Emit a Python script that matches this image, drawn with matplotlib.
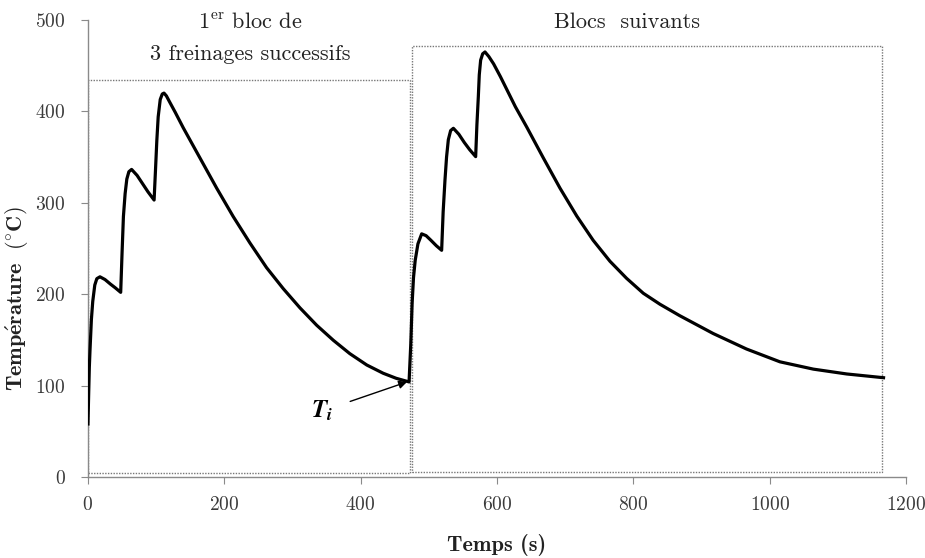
import matplotlib
matplotlib.use('Agg')
import matplotlib.pyplot as plt
from matplotlib.patches import Rectangle

# temperature history (s, degC)
temps_s = [0, 1, 2, 3, 5, 7, 10, 13, 17.6, 25, 33, 40, 48,
           50, 52, 54.5, 57, 60, 64, 72, 80, 88, 97,
           99, 101, 103, 106, 109, 111.5, 115, 120, 128, 139.8,
           164.3, 188.8, 213, 237.6, 262, 286.5, 311, 335.5, 360,
           384, 409, 433, 452, 471,
           473.5, 475.5, 477.5, 480, 484, 489.5, 496, 503, 511, 518.8,
           521, 523.7, 526, 528.6, 532, 536, 544, 552, 560, 568.7,
           570.5, 572.6, 574, 576, 579, 582.4, 588, 595, 605, 615, 627, 643.5,
           668, 692.4, 717, 741, 765.7, 790, 814.6, 839, 868, 917,
           966, 1015, 1064, 1113, 1167]
temperature_c = [58, 90, 120, 139, 172, 192, 210, 217, 219, 216, 211, 207, 202,
                 245, 285, 310, 326, 334, 336.5, 330, 321, 312, 303,
                 335, 368, 394, 413, 419, 420, 417, 410, 399, 382,
                 349, 316, 285, 256, 229, 206, 185, 166, 149.5,
                 135, 122.5, 113.5, 108, 104,
                 145, 190, 218, 237, 255, 266, 264, 259, 253, 248,
                 290, 325, 350, 369, 379, 381.5, 375, 366, 358, 350.5,
                 385, 416, 440, 456, 463, 465, 460, 452, 438, 423, 405, 383,
                 349, 316, 285.5, 259, 236, 217.4, 201, 189, 176.5, 157,
                 140, 126, 118, 112.7, 108.6]

# dotted frames around the braking blocks: (x0, x1, y0, y1)
block_frames = [(0, 472, 4, 434), (475, 1165, 5, 471)]

xticks = [0, 200, 400, 600, 800, 1000, 1200]
yticks = [0, 100, 200, 300, 400, 500]

serif = ['cmr10', 'DejaVu Serif']
serif_bold = ['cmb10', 'DejaVu Serif']
plt.rcParams['mathtext.fontset'] = 'cm'
plt.rcParams['axes.formatter.use_mathtext'] = True

fig = plt.figure(figsize=(9.25, 5.58), dpi=100)
ax = fig.add_axes([0.0951, 0.1452, 0.8844, 0.819])

ax.plot(temps_s, temperature_c, color='black', lw=2.3,
        solid_joinstyle='round', zorder=3)

for x0, x1, y0, y1 in block_frames:
    ax.add_patch(Rectangle((x0, y0), x1 - x0, y1 - y0, fill=False,
                           ec='#777777', lw=1.0, ls=(0, (1, 1)), zorder=2))

ax.set_xlim(0, 1200)
ax.set_ylim(0, 500)
ax.set_xticks(xticks)
ax.set_yticks(yticks)
for s in ['top', 'right']:
    ax.spines[s].set_visible(False)
for s in ['left', 'bottom']:
    ax.spines[s].set_color('#8a8a8a')
    ax.spines[s].set_linewidth(1.0)
ax.tick_params(direction='out', length=5, color='#8a8a8a',
               labelcolor='#3a3a3a', labelsize=14)
ax.tick_params(axis='x', pad=9)
ax.tick_params(axis='y', pad=11)
for lab in ax.get_xticklabels() + ax.get_yticklabels():
    lab.set_family(serif)

ax.set_xlabel('Temps (s)', family=serif_bold, fontweight='bold',
              fontsize=16, color='#222222')
ax.set_ylabel(r'$\mathbf{Temp\acute{e}rature\ \ (^{\circ}C)}$',
              fontsize=16, color='#222222')
ax.xaxis.set_label_coords(0.5, -0.124)
ax.yaxis.set_label_coords(-0.07, 0.39)

ax.text(238, 498, r'1$^{\mathrm{er}}$ bloc de', family=serif, fontsize=16,
        ha='center', va='center', color='#222222', clip_on=False)
ax.text(238, 462, '3 freinages successifs', family=serif, fontsize=16,
        ha='center', va='center', color='#222222')
ax.text(791, 498, 'Blocs  suivants', family=serif, fontsize=16,
        ha='center', va='center', color='#222222', clip_on=False)

ax.annotate(r'$\mathbfit{T_i}$', xy=(468, 104), xytext=(343, 72),
            fontsize=18, ha='center', va='center', math_fontfamily='stix',
            arrowprops=dict(arrowstyle='-|>', color='black', lw=1.0,
                            mutation_scale=12, shrinkA=11, shrinkB=0))

fig.savefig('out.png', dpi=100)
